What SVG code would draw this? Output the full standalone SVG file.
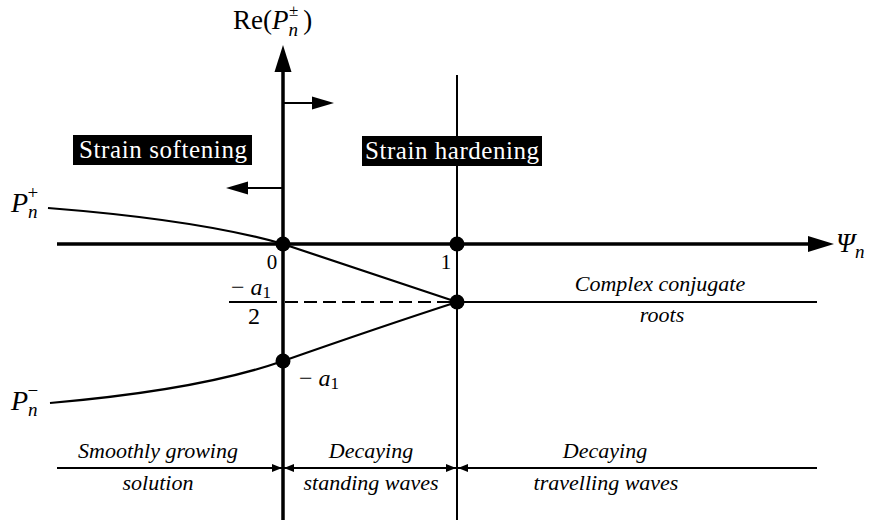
<svg xmlns="http://www.w3.org/2000/svg" width="874" height="525" viewBox="0 0 874 525">
<defs>
<style>
.ax{stroke:#000;fill:none;stroke-width:3.5}
.thin{stroke:#000;fill:none;stroke-width:2}
.cv{stroke:#000;fill:none;stroke-width:2.2}
.dot{fill:#000}
.t{font-family:"Liberation Serif","Times New Roman",serif;fill:#000}
.it{font-family:"Liberation Serif","Times New Roman",serif;font-style:italic;fill:#000}
.box{fill:#000}
.wt{font-family:"Liberation Serif","Times New Roman",serif;fill:#fff;font-size:25px}
</style>
</defs>
<rect width="874" height="525" fill="#fff"/>
<g id="connectors">
<line class="ax" x1="283" y1="520" x2="283" y2="66"/>
<polygon points="283,45 274.5,72 291.5,72" fill="#000"/>
<line class="ax" x1="57" y1="244" x2="812" y2="244"/>
<polygon points="834,244 808,236 808,252" fill="#000"/>
<line class="thin" x1="457" y1="75" x2="457" y2="520"/>
<line class="thin" x1="283" y1="103" x2="318" y2="103"/>
<polygon points="334,103 312,96.5 312,109.5" fill="#000"/>
<line class="thin" x1="283" y1="188" x2="244" y2="188"/>
<polygon points="226,188 248,181.5 248,194.5" fill="#000"/>
<line class="thin" x1="229" y1="302" x2="277" y2="302"/>
<line class="thin" x1="285" y1="302" x2="455" y2="302" stroke-dasharray="13,6"/>
<line class="thin" x1="457" y1="302" x2="817" y2="302"/>
<path class="cv" d="M48,208 Q200,220 283,244 Q375,275 457,302"/>
<path class="cv" d="M50,403 Q200,390 283,361 Q380,327 457,302"/>
<line class="thin" x1="57" y1="468" x2="817" y2="468"/>
<polygon points="282,468 272,464 272,472" fill="#000"/>
<polygon points="284,468 294,464 294,472" fill="#000"/>
<polygon points="456,468 446,464 446,472" fill="#000"/>
<polygon points="458,468 468,464 468,472" fill="#000"/>
</g>
<g id="dots">
<circle class="dot" cx="283" cy="244" r="7.5"/>
<circle class="dot" cx="457" cy="244" r="7.5"/>
<circle class="dot" cx="457" cy="302" r="7.5"/>
<circle class="dot" cx="283" cy="361" r="7.5"/>
</g>
<g id="axis-labels">
<text class="t" x="233" y="29" font-size="27">Re(<tspan font-style="italic">P</tspan><tspan font-size="19" dy="7" font-style="italic">n</tspan><tspan font-size="17" dx="-9" dy="-20">±</tspan><tspan dy="13" dx="5">)</tspan></text>
<text class="it" x="836" y="252" font-size="27">Ψ<tspan font-size="19" dy="6">n</tspan></text>
<text class="it" x="11" y="212" font-size="28">P<tspan font-size="19" dy="6">n</tspan><tspan font-size="19" font-style="normal" dx="-10" dy="-19">+</tspan></text>
<text class="it" x="11" y="410" font-size="28">P<tspan font-size="19" dy="6">n</tspan><tspan font-size="19" font-style="normal" dx="-10" dy="-19">−</tspan></text>
<text class="t" x="272" y="269" font-size="21" text-anchor="middle">0</text>
<text class="t" x="446" y="269" font-size="21" text-anchor="middle">1</text>
<text class="t" x="231" y="295" font-size="24">− <tspan font-style="italic">a</tspan><tspan font-size="17" dy="3">1</tspan></text>
<text class="t" x="254" y="324" font-size="24" text-anchor="middle">2</text>
<text class="t" x="299" y="386" font-size="24">− <tspan font-style="italic">a</tspan><tspan font-size="17" dy="3">1</tspan></text>
</g>
<g id="strain-softening">
<rect class="box" x="73" y="135" width="179" height="30"/>
<text class="wt" x="79" y="158" textLength="168" lengthAdjust="spacing">Strain softening</text>
</g>
<g id="strain-hardening">
<rect class="box" x="362" y="136" width="180" height="30"/>
<text class="wt" x="365" y="159" textLength="174" lengthAdjust="spacing">Strain hardening</text>
</g>
<g id="region-labels">
<text class="it" x="660" y="291" font-size="22" text-anchor="middle">Complex conjugate</text>
<text class="it" x="662" y="322" font-size="22" text-anchor="middle">roots</text>
<text class="it" x="158" y="458" font-size="22" text-anchor="middle">Smoothly growing</text>
<text class="it" x="158" y="490" font-size="22" text-anchor="middle">solution</text>
<text class="it" x="371" y="458" font-size="22" text-anchor="middle">Decaying</text>
<text class="it" x="371" y="490" font-size="22" text-anchor="middle">standing waves</text>
<text class="it" x="605" y="458" font-size="22" text-anchor="middle">Decaying</text>
<text class="it" x="606" y="490" font-size="22" text-anchor="middle">travelling waves</text>
</g>
</svg>
